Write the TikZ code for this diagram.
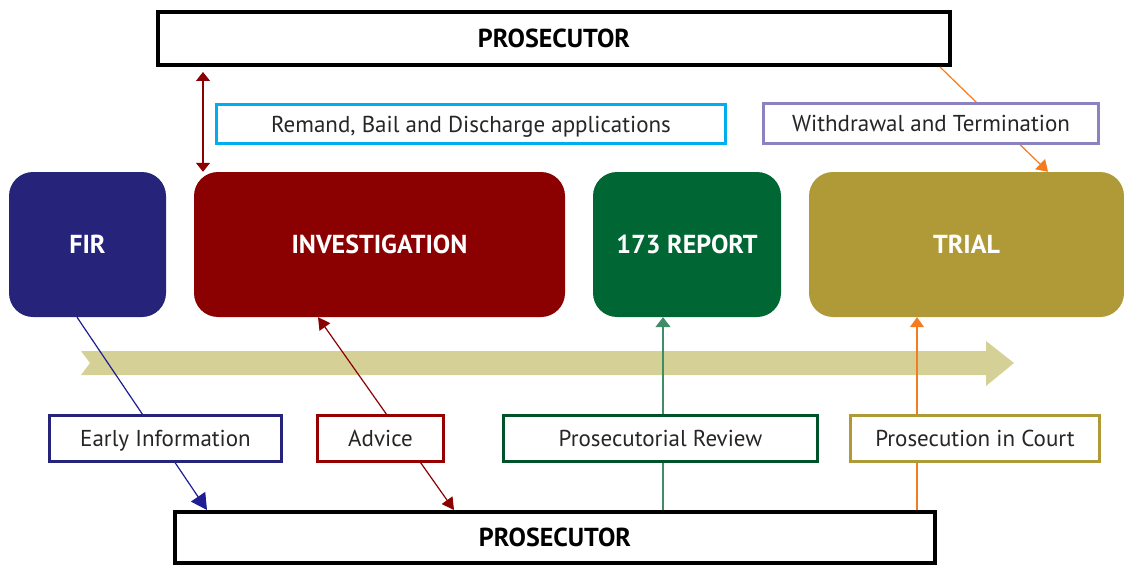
\documentclass[tikz,border=0pt]{standalone}
\usepackage{fontspec}
\setmainfont{PT Sans}
\usetikzlibrary{arrows.meta}

\definecolor{firblue}{HTML}{26247A}
\definecolor{invred}{HTML}{8B0000}
\definecolor{repgreen}{HTML}{006633}
\definecolor{trialgold}{HTML}{B09A37}
\definecolor{bandgold}{HTML}{D5D096}
\definecolor{remcyan}{HTML}{00AEEF}
\definecolor{wdpurple}{HTML}{8B82C0}
\definecolor{courtorange}{HTML}{F47B20}

\begin{document}
\begin{tikzpicture}[x=1pt,y=-1pt,
	stage/.style={rounded corners=24pt, minimum height=145pt, text=white, font=\fontsize{26}{28}\selectfont\bfseries, inner sep=0pt, text height=18pt, text depth=0pt},
	prosbox/.style={draw=black, line width=4pt, fill=white, minimum height=51pt, font=\fontsize{26}{28}\selectfont\bfseries, inner sep=0pt, text height=18pt, text depth=0pt},
	role/.style={draw, line width=3pt, fill=white, minimum height=46pt, font=\fontsize{23}{25}\selectfont, text=black!85, inner sep=0pt, text height=16pt, text depth=0pt},
	link/.style={line width=1.2pt}]
	\useasboundingbox (0,0) rectangle (1124,567);

	% time line
	\fill[bandgold] (81,351) -- (986,351) -- (986,341) -- (1014,363) -- (986,386) -- (986,375) -- (81,375) -- (90,363) -- cycle;

	% stages
	\node[stage, fill=firblue, minimum width=157pt] (fir) at (87.5,244.5) {FIR};
	\node[stage, fill=invred, minimum width=371pt] (inv) at (379.5,244.5) {INVESTIGATION};
	\node[stage, fill=repgreen, minimum width=188pt] (rep) at (687,244.5) {173 REPORT};
	\node[stage, fill=trialgold, minimum width=315pt] (trial) at (966.5,244.5) {TRIAL};

	\node[prosbox, minimum width=792pt, minimum height=53pt] (prostop) at (554,38.5) {PROSECUTOR};
	\node[prosbox, minimum width=760pt] (prosbot) at (555,537.5) {PROSECUTOR};

	% connectors
	\draw[link, invred, {Triangle[length=9pt,width=14pt]}-{Triangle[length=9pt,width=14pt]}, shorten <=5pt]
		([xshift=-351pt]prostop.south) -- ([xshift=-176.5pt]inv.north);
	\draw[link, courtorange, -{Triangle[length=11pt,width=14pt]}]
		([xshift=386pt]prostop.south) -- ([xshift=81.5pt]trial.north);
	\draw[link, firblue!80!blue, -{Triangle[length=16pt,width=17pt]}]
		([xshift=-10.5pt]fir.south) -- ([xshift=-348pt]prosbot.north);
	\draw[link, invred, {Triangle[length=12pt,width=13pt]}-{Triangle[length=12pt,width=13pt]}]
		([xshift=-61.5pt]inv.south) -- ([xshift=-101pt]prosbot.north);
	\draw[line width=1.5pt, repgreen!75, -{Triangle[length=10pt,width=15pt]}]
		([xshift=108pt]prosbot.north) -- ([xshift=-24pt]rep.south);
	\draw[link, courtorange, -{Triangle[length=10pt,width=14pt]}]
		([xshift=362pt]prosbot.north) -- ([xshift=-49.5pt]trial.south);

	% roles
	\node[role, draw=remcyan, minimum width=509pt, minimum height=39pt] (remand) at (471,124) {Remand, Bail and Discharge applications};
	\node[role, draw=wdpurple, minimum width=335pt, minimum height=40pt] (withdraw) at (931,123.5) {Withdrawal and Termination};
	\node[role, draw=firblue, minimum width=232pt] (early) at (165.5,438) {Early Information};
	\node[role, draw=invred!90!red, minimum width=126pt] (advice) at (380.5,438) {Advice};
	\node[role, draw=repgreen!80!black, minimum width=314pt] (review) at (660.5,438) {Prosecutorial Review};
	\node[role, draw=trialgold, minimum width=249pt] (court) at (975,438) {Prosecution in Court};
\end{tikzpicture}
\end{document}
